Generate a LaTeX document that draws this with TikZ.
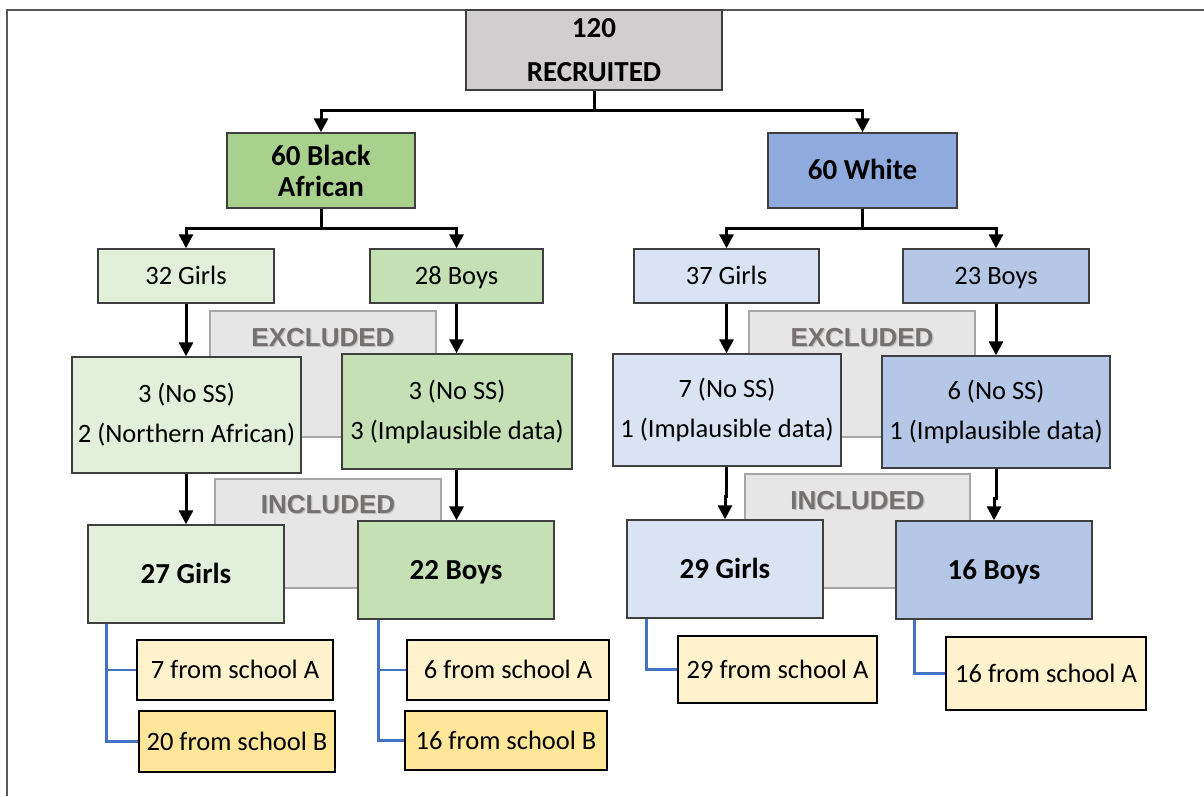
\documentclass[tikz,border=0pt]{standalone}
\usepackage{fontspec}
\setmainfont{Carlito}
\newfontfamily\arialfont{Liberation Sans}
\usetikzlibrary{arrows.meta,positioning,calc}
\definecolor{recgray}{HTML}{D0CECE}
\definecolor{blkgreen}{HTML}{A9D18E}
\definecolor{whtblue}{HTML}{8FAADC}
\definecolor{ltgreen}{HTML}{E2EFDA}
\definecolor{midgreen}{HTML}{C5E0B4}
\definecolor{ltblue}{HTML}{DAE3F3}
\definecolor{midblue}{HTML}{B4C7E7}
\definecolor{exgray}{HTML}{E7E6E6}
\definecolor{exborder}{HTML}{A6A6A6}
\definecolor{extext}{HTML}{767171}
\definecolor{schA}{HTML}{FFF2CC}
\definecolor{schB}{HTML}{FFE699}
\definecolor{conblue}{HTML}{4472C4}
\definecolor{frame}{HTML}{595959}
\definecolor{boxline}{HTML}{3F3F3F}
\begin{document}
\begin{tikzpicture}[x=1pt,y=-1pt,
  box/.style={draw=boxline,line width=1.4pt,inner sep=0pt,align=center,
    font=\fontsize{26.5}{40}\selectfont},
  one/.style={text height=19pt,text depth=2pt},
  oneb/.style={text height=20.7pt,text depth=2pt},
  bbox/.style={box,font=\fontsize{29}{31}\selectfont\bfseries},
  exbox/.style={draw=exborder,fill=exgray,line width=1.4pt,inner sep=0pt},
  extxt/.style={font=\arialfont\fontsize{26}{30}\selectfont\bfseries,text=extext,inner sep=0pt},
  exshadow/.style={font=\arialfont\fontsize{26}{30}\selectfont\bfseries,text=black!25,inner sep=0pt},
  school/.style={draw=black,line width=2pt,inner sep=0pt,font=\fontsize{26.5}{30}\selectfont,
    text height=19pt,text depth=2pt},
  arr/.style={draw=black,line width=3pt,-{Triangle[width=14pt,length=14pt]}},
  blueline/.style={draw=conblue,line width=2.6pt}
]
\useasboundingbox (0,0) rectangle (1204,796);
% frame
\draw[frame,line width=2pt] (7,796) -- (7,10) -- (1204,10);

% background excluded / included boxes
\node[exbox,minimum width=226pt,minimum height=126pt] (exL) at (323,374) {};
\node[exbox,minimum width=226pt,minimum height=126pt] (exR) at (862,374) {};
\node[exbox,minimum width=226pt,minimum height=109pt] (inL) at (328,533.5) {};
\node[exbox,minimum width=225pt,minimum height=114pt] (inR) at (857.5,531) {};
\node[exshadow] at ([xshift=1.2pt,yshift=-28.2pt]exL.north) {EXCLUDED};
\node[extxt] (exLt) at ([yshift=-27pt]exL.north) {EXCLUDED};
\node[exshadow] at ([xshift=1.2pt,yshift=-28.2pt]exR.north) {EXCLUDED};
\node[extxt] (exRt) at ([yshift=-27pt]exR.north) {EXCLUDED};
\node[exshadow] at ([xshift=1.2pt,yshift=-27.2pt]inL.north) {INCLUDED};
\node[extxt] (inLt) at ([yshift=-26pt]inL.north) {INCLUDED};
\node[exshadow] at ([xshift=1.2pt,yshift=-28.2pt]inR.north) {INCLUDED};
\node[extxt] (inRt) at ([yshift=-27pt]inR.north) {INCLUDED};

% main boxes
\node[bbox,fill=recgray,minimum width=256pt,minimum height=80pt,
  font=\fontsize{29}{44}\selectfont\bfseries] (rec) at (594,50) {120\\RECRUITED};
\node[bbox,fill=blkgreen,minimum width=188pt,minimum height=75pt] (blk) at (321,170.5) {60 Black\\African};
\node[bbox,oneb,fill=whtblue,minimum width=189pt,minimum height=75pt] (wht) at (862.5,170.5) {60 White};

\node[box,one,fill=ltgreen,minimum width=176pt,minimum height=54pt] (g32) at (186,276) {32 Girls};
\node[box,one,fill=midgreen,minimum width=173pt,minimum height=54pt] (b28) at (456.5,276) {28 Boys};
\node[box,one,fill=ltblue,minimum width=185pt,minimum height=54pt] (g37) at (726.5,276) {37 Girls};
\node[box,one,fill=midblue,minimum width=186pt,minimum height=54pt] (b23) at (996,276) {23 Boys};

\node[box,fill=ltgreen,minimum width=229pt,minimum height=116pt] (xg1) at (186.5,415) {3 (No SS)\\2 (Northern African)};
\node[box,fill=midgreen,minimum width=230pt,minimum height=115pt] (xb1) at (457,411.5) {3 (No SS)\\3 (Implausible data)};
\node[box,fill=ltblue,minimum width=228pt,minimum height=112pt] (xg2) at (727,410) {7 (No SS)\\1 (Implausible data)};
\node[box,fill=midblue,minimum width=228pt,minimum height=112pt] (xb2) at (996,412) {6 (No SS)\\1 (Implausible data)};

\node[bbox,oneb,fill=ltgreen,minimum width=196pt,minimum height=98pt] (g27) at (186,574) {27 Girls};
\node[bbox,oneb,fill=midgreen,minimum width=196pt,minimum height=98pt] (b22) at (456,570) {22 Boys};
\node[bbox,oneb,fill=ltblue,minimum width=196pt,minimum height=98pt] (g29) at (725,569) {29 Girls};
\node[bbox,oneb,fill=midblue,minimum width=196pt,minimum height=98pt] (b16) at (994,570) {16 Boys};

% school boxes
\node[school,fill=schA,minimum width=196pt,minimum height=60pt] (s1) at (235,670) {7 from school A};
\node[school,fill=schB,minimum width=196pt,minimum height=61pt] (s2) at (237,741.5) {20 from school B};
\node[school,fill=schA,minimum width=202pt,minimum height=60pt] (s3) at (508,670) {6 from school A};
\node[school,fill=schB,minimum width=202pt,minimum height=59pt] (s4) at (506,740.5) {16 from school B};
\node[school,fill=schA,minimum width=199pt,minimum height=67pt] (s5) at (777.5,669.5) {29 from school A};
\node[school,fill=schA,minimum width=200pt,minimum height=73pt] (s6) at (1046,673.5) {16 from school A};

% arrows
\draw[arr] (rec.south) -- ++(0,20) -| (blk.north);
\draw[arr] (rec.south) -- ++(0,20) -| (wht.north);
\draw[arr] (blk.south) -- ++(0,20) -| (g32.north);
\draw[arr] (blk.south) -- ++(0,20) -| (b28.north);
\draw[arr] (wht.south) -- ++(0,20) -| (g37.north);
\draw[arr] (wht.south) -- ++(0,20) -| (b23.north);
\draw[arr] (g32.south) -- (xg1.north -| g32.south);
\draw[arr] (b28.south) -- (xb1.north -| b28.south);
\draw[arr] (g37.south) -- (xg2.north -| g37.south);
\draw[arr] (b23.south) -- (xb2.north -| b23.south);
\draw[arr] (xg1.south -| g32.south) -- (g27.north -| g32.south);
\draw[arr] (xb1.south -| b28.south) -- (b22.north -| b28.south);
\draw[arr] (xg2.south -| g37.south) -- ++(0,30) -| (g29.north);
\draw[arr] (xb2.south -| b23.south) -- ++(0,30) -| (b16.north);

% blue connectors
\coordinate (c1) at ([xshift=19pt]g27.south west);
\coordinate (c2) at ([xshift=21pt]b22.south west);
\coordinate (c3) at ([xshift=20pt]g29.south west);
\coordinate (c4) at ([xshift=19pt]b16.south west);
\draw[blueline] (c1) |- (s1.west);
\draw[blueline] (c1) |- (s2.west);
\draw[blueline] (c2) |- (s3.west);
\draw[blueline] (c2) |- (s4.west);
\draw[blueline] (c3) |- (s5.west);
\draw[blueline] (c4) |- (s6.west);
\end{tikzpicture}
\end{document}
